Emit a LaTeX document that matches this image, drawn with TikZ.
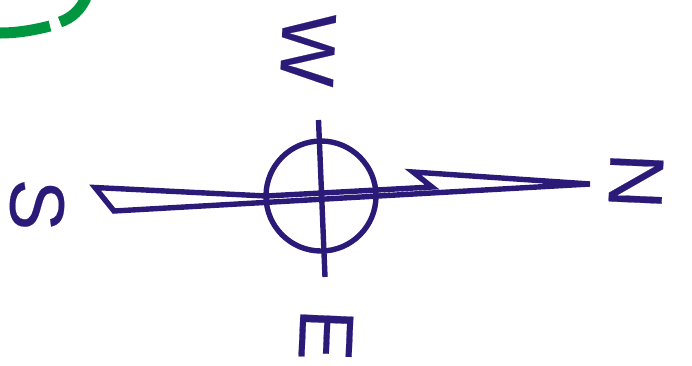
\documentclass[tikz,border=0pt]{standalone}
\usepackage{fontspec}
\setmainfont{Liberation Sans}
\newfontfamily\letterfont[FakeBold=0.25]{Liberation Sans}
\definecolor{compassblue}{HTML}{2B1A78}
\definecolor{trackgreen}{HTML}{00963F}
\begin{document}
\begin{tikzpicture}[x=1pt,y=-1pt,
  needle/.style={draw=compassblue, line width=5.4pt, line join=miter},
  letter/.style={text=compassblue, font=\letterfont\fontsize{77}{77}\selectfont, inner sep=0pt},
]
\useasboundingbox (0,0) rectangle (692,365);

% green track, top left
\draw[trackgreen, line width=11pt] (0,33) .. controls (18,33) and (34,30) .. (50,26);
\draw[trackgreen, line width=11pt] (60,22) .. controls (72,18) and (80,10) .. (86,-2);

% compass ring and cross line
\node[draw=compassblue, line width=5.4pt, circle, minimum size=110pt, inner sep=0pt] (ring) at (321,196) {};
\coordinate (wEnd) at (318.5,120);
\coordinate (eEnd) at (325,277);
\draw[needle] (wEnd) -- (eEnd);

% needle
\draw[needle] (590,184) -- (413,172) -- (432,187) -- (266,196) -- (95,187.5) -- (114,211) -- cycle;

% letters
\node[letter, rotate=-92.5] (N) at (636,181) {N};
\node[letter, rotate=-92.5] (S) at (37,205) {S};
\node[letter, rotate=-92.5] (W) at (308,50) {W};
\node[letter, rotate=-92.5] (E) at (326,335) {E};
\end{tikzpicture}
\end{document}
